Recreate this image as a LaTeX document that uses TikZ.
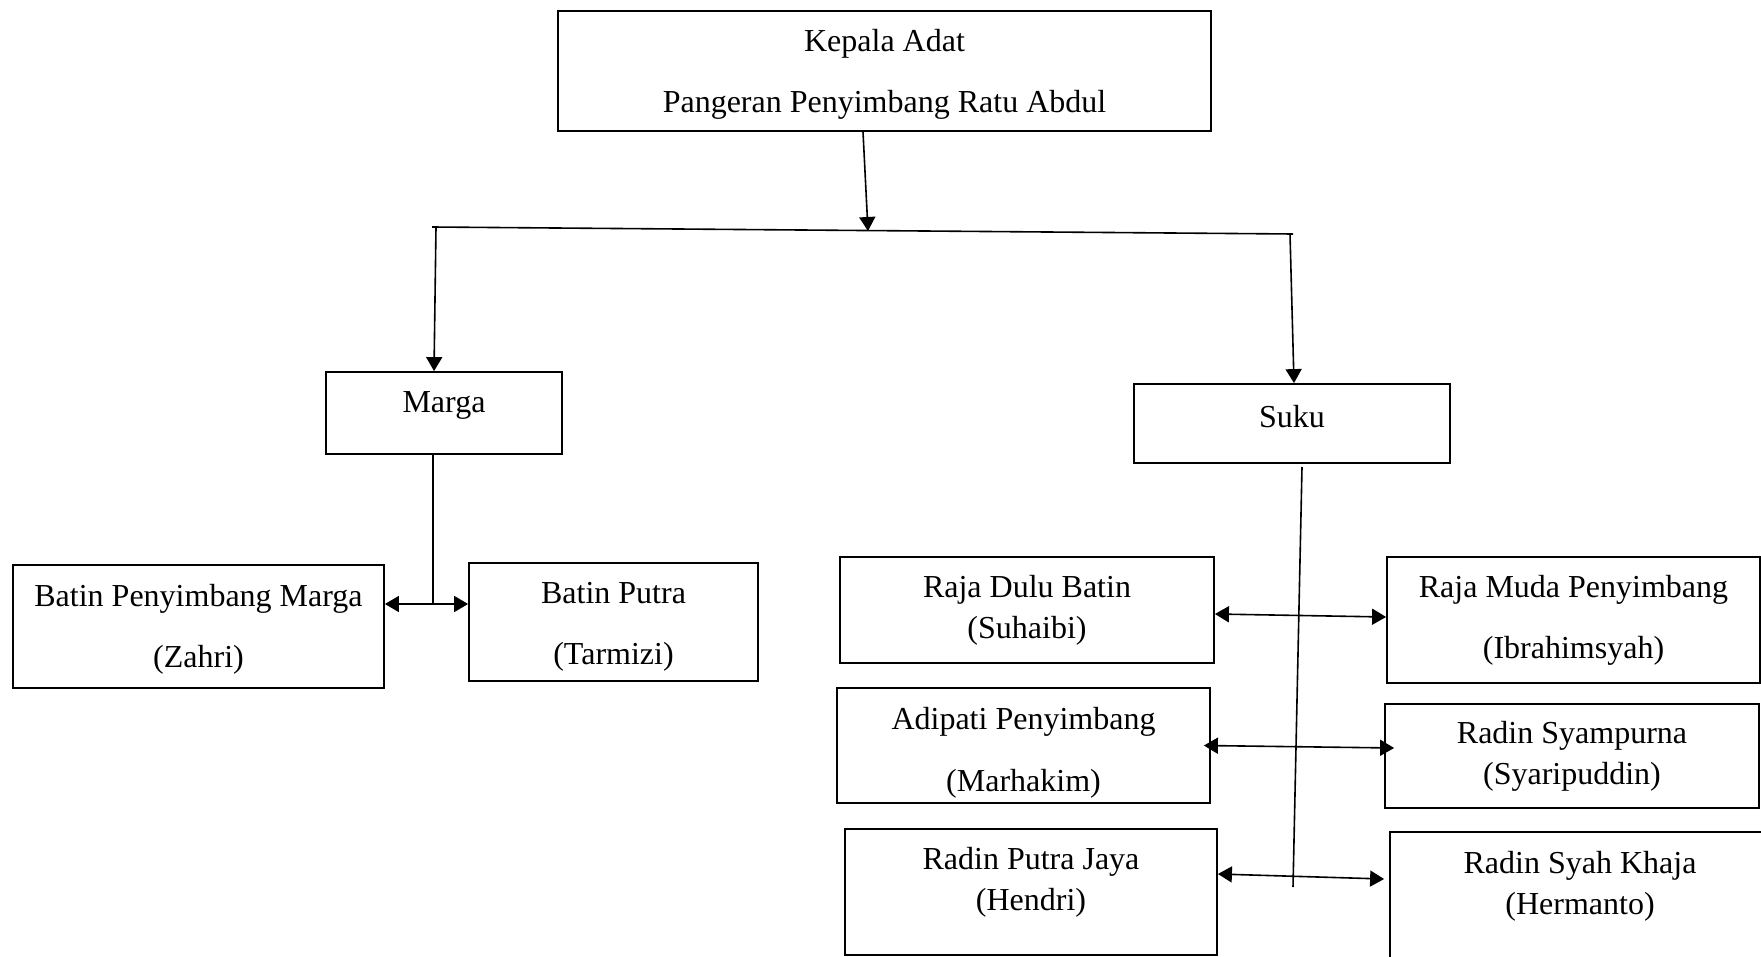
\documentclass[tikz,border=0pt]{standalone}
\usepackage{fontspec}
\setmainfont{Liberation Serif}
\usetikzlibrary{arrows.meta}

\begin{document}
\begin{tikzpicture}[
        x=0.5pt, y=-0.5pt,
        >={Triangle[length=7pt,width=8pt]},
        font=\fontsize{16}{20.5}\selectfont,
        box/.style={draw, rectangle, line width=0.9pt, align=center, inner sep=0pt},
        link/.style={thick},
        arrow/.style={->, thick},
        both/.style={<->, thick}
    ]
    \useasboundingbox (0,0) rectangle (1761,957);

    % Nodes
    \node[box, minimum width=326.5pt, minimum height=60pt] (kepala) at (884.5,71) {\rule{0pt}{14.5pt}Kepala Adat\\[10pt] Pangeran Penyimbang Ratu Abdul};
    \node[box, minimum width=118pt, minimum height=41pt] (marga) at (444,413) {Marga\rule[-11pt]{0pt}{11pt}};
    \node[box, minimum width=158pt, minimum height=39.5pt] (suku) at (1292,423.5) {Suku\rule[-7.5pt]{0pt}{7.5pt}};

    \node[box, minimum width=185.5pt, minimum height=61.5pt] (batinpm) at (198.5,626.5) {\rule{0pt}{14pt}Batin Penyimbang Marga\\[10pt] (Zahri)};
    \node[box, minimum width=144.5pt, minimum height=59pt] (batinputra) at (613.5,622) {\rule{0pt}{15.5pt}Batin Putra\\[10pt] (Tarmizi)};

    \node[box, minimum width=187pt, minimum height=53pt] (rajadulu) at (1027,610) {Raja Dulu Batin\\ (Suhaibi)};
    \node[box, minimum width=186.5pt, minimum height=63pt] (rajamuda) at (1573.5,620) {Raja Muda Penyimbang\\[10pt] (Ibrahimsyah)};
    \node[box, minimum width=186.5pt, minimum height=57.5pt] (adipati) at (1023.5,745.5) {\rule{0pt}{18pt}Adipati Penyimbang\\[10.5pt] (Marhakim)};
    \node[box, minimum width=187pt, minimum height=52pt] (syampurna) at (1572,756) {Radin Syampurna\\ (Syaripuddin)};
    \node[box, minimum width=186pt, minimum height=63pt] (putrajaya) at (1031,892) {Radin Putra Jaya\\ (Hendri)\rule[-13.5pt]{0pt}{13.5pt}};
    \node[box, minimum width=190pt, minimum height=79pt] (syahkhaja) at (1580,911) {Radin Syah Khaja\\ (Hermanto)\rule[-28pt]{0pt}{28pt}};

    % Connectors
    \coordinate (barleft) at (432,227);
    \coordinate (barmid) at (868,231);
    \coordinate (barright) at (1293,234);
    \coordinate (leftdrop) at (436,227);
    \coordinate (rightdrop) at (1290,234);
    \coordinate (margajoin) at (433,604);
    \coordinate (sukutop) at (1302,467);
    \coordinate (sukuend) at (1293,887);

    \draw[arrow] ([xshift=-10.75pt]kepala.south) -- (barmid);
    \draw[link] (barleft) -- (barright);
    \draw[arrow] (leftdrop) -- ([xshift=-5pt]marga.north);
    \draw[arrow] (rightdrop) -- ([xshift=1pt]suku.north);

    \draw[link] (marga.south -| margajoin) -- (margajoin);
    \draw[both] (batinpm.east |- margajoin) -- (batinputra.west |- margajoin);

    \draw[link] (sukutop) -- (sukuend);
    \draw[both] ([yshift=-2pt]rajadulu.east) -- ([yshift=1.5pt]rajamuda.west);
    \draw[both] ([xshift=-3.5pt]adipati.east) -- ([xshift=5pt,yshift=4pt]syampurna.west);
    \draw[both] ([yshift=9pt]putrajaya.east) -- ([xshift=-2.5pt,yshift=16pt]syahkhaja.west);
\end{tikzpicture}
\end{document}
